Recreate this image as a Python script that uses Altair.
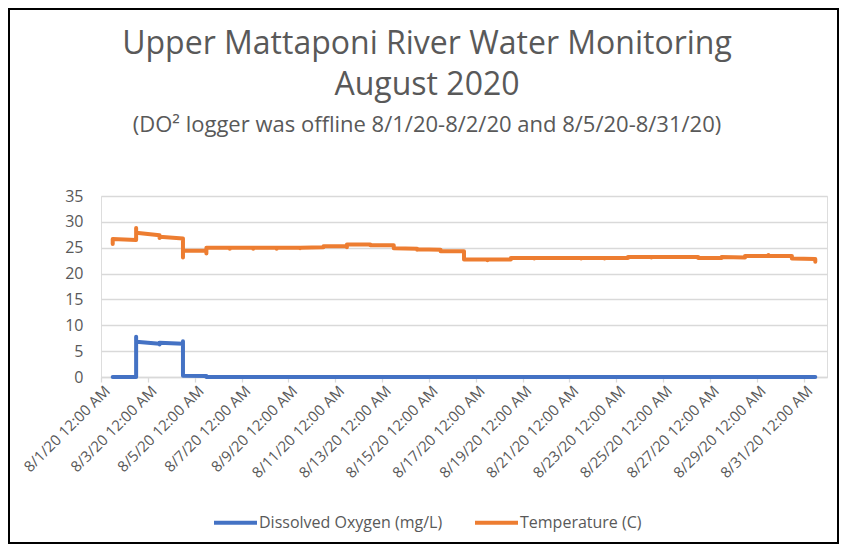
import altair as alt
import pandas as pd

# ---- data ----
series_names = ["Dissolved Oxygen (mg/L)", "Temperature (C)"]
series_colors = ["#4472C4", "#ED7D31"]

# Excel date axis: every reading of a day sits at the middle of that day's slot
temp_day = [1, 1,
            2, 2, 2,
            3, 3, 3,
            4, 4, 4,
            5, 5, 5,
            6, 6, 6,
            7, 7, 7,
            8, 8, 8,
            9, 9, 9,
            10, 10,
            11, 11, 11,
            12, 12,
            13, 13,
            14, 14, 14,
            15, 15,
            16, 16,
            17, 17, 17,
            18, 18,
            19, 19, 19,
            20,
            21, 21, 21,
            22, 22, 22,
            23, 23,
            24, 24, 24,
            25,
            26, 26,
            27, 27,
            28, 28,
            29, 29, 29,
            30, 30,
            31, 31]
temp_val = [25.7, 26.7,
            26.5, 28.8, 27.9,
            27.4, 26.9, 27.1,
            26.8, 23.1, 24.4,
            24.4, 23.9, 25.0,
            25.0, 24.8, 25.0,
            25.0, 24.8, 25.0,
            25.0, 24.8, 25.0,
            25.0, 24.9, 25.0,
            25.1, 25.3,
            25.3, 25.1, 25.6,
            25.6, 25.5,
            25.5, 24.9,
            24.8, 24.6, 24.7,
            24.6, 24.3,
            24.3, 22.7,
            22.7, 22.6, 22.7,
            22.7, 23.0,
            23.0, 22.9, 23.0,
            23.0,
            23.0, 22.9, 23.0,
            23.0, 22.9, 23.0,
            23.0, 23.2,
            23.2, 23.1, 23.2,
            23.2,
            23.2, 23.0,
            23.0, 23.2,
            23.1, 23.4,
            23.4, 23.6, 23.4,
            23.4, 22.9,
            22.8, 22.3]

do_day = [1,
          2, 2, 2,
          3, 3, 3,
          4, 4, 4,
          5, 5,
          6, 7, 8, 9, 10, 11, 12, 13, 14, 15, 16, 17, 18,
          19, 20, 21, 22, 23, 24, 25, 26, 27, 28, 29, 30, 31]
do_val = [0.0,
          0.0, 7.8, 6.8,
          6.45, 6.3, 6.6,
          6.45, 6.9, 0.25,
          0.2, 0.0,
          0.0, 0.0, 0.0, 0.0, 0.0, 0.0, 0.0, 0.0, 0.0, 0.0, 0.0, 0.0, 0.0,
          0.0, 0.0, 0.0, 0.0, 0.0, 0.0, 0.0, 0.0, 0.0, 0.0, 0.0, 0.0, 0.0]

tick_days = [1, 3, 5, 7, 9, 11, 13, 15, 17, 19, 21, 23, 25, 27, 29, 31]
y_ticks = [0, 5, 10, 15, 20, 25, 30, 35]

title_line1 = "Upper Mattaponi River Water Monitoring"
title_line2 = "August 2020"
subtitle = "(DO\u00b2 logger was offline 8/1/20-8/2/20 and 8/5/20-8/31/20)"

# ---- build table ----
rows = []
for i, (d, v) in enumerate(zip(do_day, do_val)):
    rows.append({"t": f"2020-08-{d:02d}T12:00:00", "value": v, "series": series_names[0], "idx": i})
for i, (d, v) in enumerate(zip(temp_day, temp_val)):
    rows.append({"t": f"2020-08-{d:02d}T12:00:00", "value": v, "series": series_names[1], "idx": i})
df = pd.DataFrame(rows)

FONT = "Open Sans"
GRAY = "#595959"
W, H = 726, 181
PAD = {"left": 93, "top": 188, "right": 12, "bottom": 167}
CX = 326  # horizontal centre of the whole chart, relative to plot origin

x_enc = alt.X(
    "t:T",
    scale=alt.Scale(domain=[alt.DateTime(year=2020, month=8, date=1),
                            alt.DateTime(year=2020, month=9, date=1)]),
    axis=alt.Axis(
        title=None,
        values=[alt.DateTime(year=2020, month=8, date=d) for d in tick_days],
        format="%-m/%-d/%y %-I:%M %p",
        labelAngle=-45,
        labelAlign="right",
        labelBaseline="middle",
        labelFont=FONT,
        labelFontSize=15,
        labelColor=GRAY,
        labelPadding=6,
        labelOffset=6,
        labelOverlap=False,
        domainColor="#d9d9d9",
        domainWidth=1.3,
        tickColor="#d9d9d9",
        tickWidth=1.3,
        tickSize=5,
        grid=False,
    ),
)
y_enc = alt.Y(
    "value:Q",
    scale=alt.Scale(domain=[0, 35], nice=False),
    axis=alt.Axis(
        title=None,
        values=y_ticks,
        labelFont=FONT,
        labelFontSize=16,
        labelColor=GRAY,
        labelPadding=18,
        domain=False,
        ticks=False,
        grid=True,
        gridColor="#d9d9d9",
        gridWidth=1.3,
    ),
)

lines = alt.Chart(df).mark_line(strokeWidth=4, strokeCap="round", strokeJoin="round").encode(
    x=x_enc,
    y=y_enc,
    color=alt.Color(
        "series:N",
        scale=alt.Scale(domain=series_names, range=series_colors),
        legend=alt.Legend(
            title=None,
            orient="none",
            direction="horizontal",
            legendX=111,
            legendY=303,
            symbolType="stroke",
            symbolSize=1849,
            symbolStrokeWidth=4,
            labelFont=FONT,
            labelFontSize=16,
            labelColor=GRAY,
            labelOffset=0,
            labelLimit=400,
            columnPadding=24,
        ),
    ),
    order=alt.Order("idx:Q"),
)

one = pd.DataFrame({"a": [0]})

frame = alt.Chart(one).mark_rect(
    fill="white", fillOpacity=0, stroke="black", strokeWidth=2
).encode(
    x=alt.value(-92), x2=alt.value(W + 11),
    y=alt.value(-187), y2=alt.value(H + 166),
)

t1 = alt.Chart(one).mark_text(
    text=title_line1, font=FONT, fontSize=32, color=GRAY, align="center", baseline="alphabetic"
).encode(x=alt.value(CX), y=alt.value(-142))
t2 = alt.Chart(one).mark_text(
    text=title_line2, font=FONT, fontSize=32, color=GRAY, align="center", baseline="alphabetic"
).encode(x=alt.value(CX), y=alt.value(-101))
t3 = alt.Chart(one).mark_text(
    text=subtitle, font=FONT, fontSize=22, color=GRAY, align="center", baseline="alphabetic"
).encode(x=alt.value(CX), y=alt.value(-64))

chart = alt.layer(frame, t1, t2, t3, lines).properties(
    width=W,
    height=H,
    padding=PAD,
    autosize=alt.AutoSizeParams(type="none"),
).configure_view(stroke=None).configure(background="white")

chart.save("out.html", embed_options={"renderer": "svg", "actions": False})
